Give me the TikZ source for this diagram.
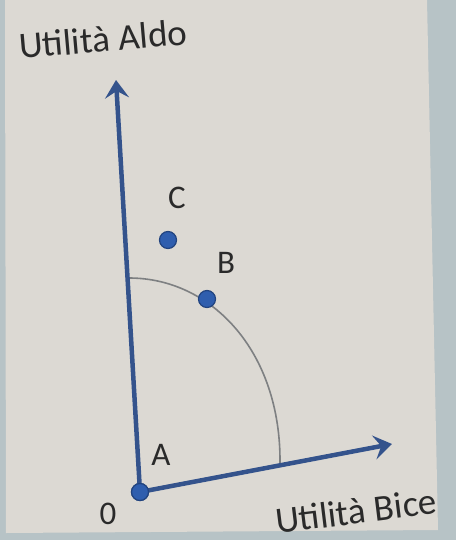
\documentclass[tikz,border=0pt]{standalone}
\usepackage{fontspec}
\setmainfont{Carlito}
\usetikzlibrary{arrows.meta}
\definecolor{slide}{HTML}{DCD9D3}
\definecolor{frame}{HTML}{B7C3C6}
\definecolor{axisblue}{HTML}{34538C}
\definecolor{dotblue}{HTML}{2F5EAE}
\definecolor{dotedge}{HTML}{22447F}
\definecolor{arcgray}{HTML}{7E8082}
\definecolor{txt}{HTML}{2A2A2A}
\begin{document}
\begin{tikzpicture}[x=1pt,y=-1pt,
  axisline/.style={draw=axisblue,line width=4.5pt,-{Stealth[length=18pt,width=24pt,inset=7pt]}},
  pointdot/.style={circle,fill=dotblue,draw=dotedge,line width=1.2pt,minimum width=16pt,minimum height=17pt,inner sep=0pt},
  lbl/.style={text=txt,font=\fontsize{33}{36}\selectfont,inner sep=0pt},
  axislbl/.style={text=txt,font=\fontsize{37}{40}\selectfont,inner sep=0pt},
  curve/.style={draw=arcgray,line width=1.6pt}]
\useasboundingbox (0,0) rectangle (456,540);
\fill[frame] (0,0) rectangle (456,540);
\fill[slide] (5,0) -- (427,0) -- (438,530) -- (6,533) -- cycle;
% points
\coordinate (ytip) at (116,80);
\coordinate (xtip) at (392,444);
\coordinate (arcstart) at (129,278);
\coordinate (arcend) at (280,463);
% arc
\draw[curve] (arcstart) .. controls (212,278) and (281,352) .. (arcend);
% axes
\node[pointdot,minimum width=17pt,minimum height=17pt] (O) at (140,492) {};
\draw[axisline] (O.center) -- (ytip);
\draw[axisline] (O.center) -- (xtip);
\node[pointdot,minimum width=17pt,minimum height=17pt] (O2) at (140,492) {};
\node[pointdot] (C) at (168,240) {};
\node[pointdot] (B) at (207,299) {};
% labels
\node[lbl] (Clbl) at (177,198) {C};
\node[lbl] (Blbl) at (226,263) {B};
\node[lbl] (Albl) at (161,455) {A};
\node[lbl] (Olbl) at (108,514) {0};
\node[axislbl,rotate=5] (Ylbl) at (103,39) {Utilità Aldo};
\node[axislbl,rotate=7] (Xlbl) at (356,511) {Utilità Bice};
\end{tikzpicture}
\end{document}
